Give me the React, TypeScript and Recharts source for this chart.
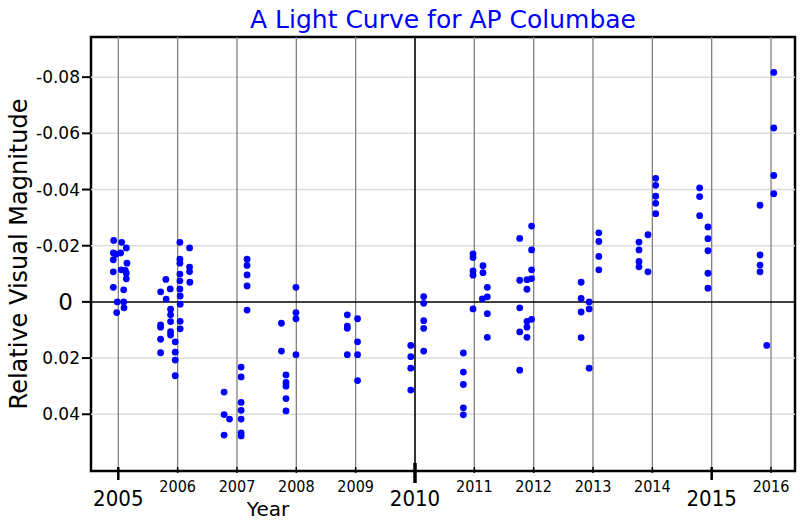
import React from "react";
import {
  ScatterChart,
  Scatter,
  XAxis,
  YAxis,
  ReferenceLine,
  ReferenceArea,
} from "recharts";

// observations per season: [year, relative magnitude]
const season2005: [number, number][] = [
  [2004.923, -0.0219], [2005.057, -0.0212], [2005.135, -0.0192], [2004.916, -0.0174],
  [2004.961, -0.017], [2005.04, -0.0174], [2004.916, -0.015], [2005.146, -0.0138],
  [2004.916, -0.0107], [2005.05, -0.0114], [2005.118, -0.0112], [2005.135, -0.0102],
  [2005.135, -0.0082], [2004.916, -0.0052], [2005.091, -0.0043], [2004.983, 0.0],
  [2005.091, 0.0], [2005.096, 0.0021], [2004.973, 0.0038],
];
const season2006: [number, number][] = [
  [2005.802, -0.008], [2005.713, -0.0036], [2005.875, -0.0046], [2005.807, -0.001],
  [2006.038, -0.0212], [2006.201, -0.0192], [2006.038, -0.0152], [2006.038, -0.0138],
  [2006.201, -0.0124], [2006.201, -0.0108], [2006.038, -0.0099], [2006.038, -0.0075],
  [2006.206, -0.007], [2006.038, -0.0046], [2006.043, -0.0021], [2006.043, 0.0008],
  [2005.881, 0.0026], [2005.881, 0.0046], [2005.881, 0.007], [2006.043, 0.0069],
  [2006.043, 0.0096], [2005.713, 0.0082], [2005.713, 0.009], [2005.881, 0.0106],
  [2005.881, 0.0118], [2005.713, 0.0133], [2005.959, 0.0142], [2005.713, 0.0181],
  [2005.959, 0.0179], [2005.959, 0.0207], [2005.959, 0.0263],
];
const season2007: [number, number][] = [
  [2007.17, -0.0152], [2007.17, -0.013], [2007.17, -0.0096], [2007.17, -0.0057],
  [2007.17, 0.0029], [2007.07, 0.0232], [2007.07, 0.0267], [2006.783, 0.0321],
  [2007.07, 0.0358], [2007.07, 0.0386], [2006.783, 0.0401], [2006.874, 0.0417],
  [2007.07, 0.0417], [2006.783, 0.0474], [2007.07, 0.0466], [2007.07, 0.0477],
];
const season2008: [number, number][] = [
  [2007.994, -0.0052], [2007.994, 0.0038], [2007.994, 0.006], [2007.749, 0.0076],
  [2007.749, 0.0175], [2007.994, 0.0188], [2007.826, 0.026], [2007.826, 0.0287],
  [2007.826, 0.03], [2007.826, 0.0344], [2007.826, 0.0388],
];
const season2009: [number, number][] = [
  [2008.859, 0.0046], [2009.032, 0.006], [2008.859, 0.0086], [2008.859, 0.0094],
  [2009.032, 0.0142], [2008.859, 0.0188], [2009.032, 0.0188], [2009.032, 0.028],
];
const season2010: [number, number][] = [
  [2010.147, -0.0019], [2010.147, 0.0005], [2010.147, 0.0067], [2010.147, 0.0094],
  [2010.147, 0.0175], [2009.929, 0.0155], [2009.929, 0.0195], [2009.929, 0.0236],
  [2009.929, 0.0314],
];
const season2011: [number, number][] = [
  [2010.978, -0.0171], [2010.978, -0.0158], [2010.978, -0.011], [2010.978, -0.0095],
  [2011.146, -0.0129], [2011.146, -0.0104], [2011.219, -0.0052], [2011.135, -0.0011],
  [2011.219, -0.0018], [2010.978, 0.0025], [2011.219, 0.0042], [2011.219, 0.0126],
  [2010.815, 0.0182], [2010.815, 0.025], [2010.815, 0.0294], [2010.815, 0.0377],
  [2010.815, 0.0402],
];
const season2012: [number, number][] = [
  [2011.965, -0.027], [2011.765, -0.0226], [2011.965, -0.0185], [2011.965, -0.0114],
  [2011.765, -0.0077], [2011.887, -0.0079], [2011.965, -0.0083], [2011.887, -0.0045],
  [2011.765, 0.0021], [2011.887, 0.0069], [2011.965, 0.0062], [2011.887, 0.009],
  [2011.765, 0.0107], [2011.887, 0.0126], [2011.765, 0.0243],
];
const season2013: [number, number][] = [
  [2013.098, -0.0246], [2013.098, -0.0215], [2013.098, -0.0162], [2013.098, -0.0114],
  [2012.8, -0.007], [2012.8, -0.0012], [2012.935, 0.0], [2012.935, 0.0025],
  [2012.8, 0.0036], [2012.8, 0.0127], [2012.935, 0.0236],
];
const season2014: [number, number][] = [
  [2013.775, -0.0213], [2013.775, -0.0185], [2013.926, -0.0239], [2013.775, -0.0144],
  [2013.775, -0.0125], [2013.926, -0.0107], [2014.056, -0.044], [2014.056, -0.0415],
  [2014.056, -0.0376], [2014.056, -0.0351], [2014.056, -0.0314],
];
const season2015: [number, number][] = [
  [2014.797, -0.0406], [2014.797, -0.0375], [2014.797, -0.0307], [2014.937, -0.0267],
  [2014.937, -0.0225], [2014.937, -0.0182], [2014.937, -0.0102], [2014.937, -0.0049],
];
const season2016: [number, number][] = [
  [2015.815, -0.0344], [2015.815, -0.0167], [2015.815, -0.0131], [2015.815, -0.0107],
  [2015.928, 0.0155], [2016.046, -0.045], [2016.046, -0.0385], [2016.046, -0.0619],
  [2016.046, -0.0817],
];

const yearTicks = [2005, 2006, 2007, 2008, 2009, 2010, 2011, 2012, 2013, 2014, 2015, 2016];
const majorYears = [2005, 2010, 2015];
const magTicks = [-0.08, -0.06, -0.04, -0.02, 0, 0.02, 0.04];
const xDomain: [number, number] = [2004.54, 2016.404];
const yDomain: [number, number] = [-0.0943, 0.0602];

const points = [
  ...season2005, ...season2006, ...season2007, ...season2008,
  ...season2009, ...season2010, ...season2011, ...season2012,
  ...season2013, ...season2014, ...season2015, ...season2016,
].map(([year, mag]) => ({ year, mag }));

const FONT = "'DejaVu Sans', sans-serif";
const COND = "'DejaVu Sans Condensed', 'DejaVu Sans', sans-serif";

function YearTick(props: any) {
  const { x, y, payload } = props;
  const v = payload.value;
  const major = majorYears.includes(v);
  const big = v === 2010;
  return (
    <g>
      <line
        x1={x}
        x2={x}
        y1={big ? y - 8 : y - 4}
        y2={big ? y + 12 : major ? y + 9 : y + 2}
        stroke="#000"
        strokeWidth={big ? 3.5 : major ? 2.5 : 1.5}
      />
      <text
        x={x}
        y={major ? y + 35 : y + 21}
        textAnchor="middle"
        fontFamily={COND}
        fontSize={major ? 22 : 16}
        fill="#000"
      >
        {v}
      </text>
    </g>
  );
}

function MagTick(props: any) {
  const { x, y, payload } = props;
  const v = payload.value;
  const zero = v === 0;
  return (
    <g>
      <line x1={x - 9} x2={x} y1={y} y2={y} stroke="#000" strokeWidth={2} />
      <text
        x={zero ? x - 18 : x - 11}
        y={y}
        dy={zero ? 8 : 6}
        textAnchor="end"
        fontFamily={FONT}
        fontSize={zero ? 23 : 17}
        fill="#000"
      >
        {zero ? "0" : v.toFixed(2)}
      </text>
    </g>
  );
}

const Dot = (props: any) => (
  <circle cx={props.cx} cy={props.cy} r={3.4} fill="#0000ff" />
);

export default function App() {
  return (
    <div style={{ position: "absolute", left: 0, top: 0, width: 800, height: 520, background: "#fff" }}>
      <div
        style={{
          position: "absolute",
          left: 91,
          top: 7,
          width: 704,
          textAlign: "center",
          fontFamily: FONT,
          fontSize: 25,
          lineHeight: "25px",
          color: "#0000ff",
        }}
      >
        A Light Curve for AP Columbae
      </div>
      <ScatterChart width={800} height={520} margin={{ top: 37, right: 5, bottom: 0, left: 0 }}>
        <XAxis
          type="number"
          dataKey="year"
          domain={xDomain}
          ticks={yearTicks}
          allowDataOverflow
          height={49}
          tickSize={0}
          tickMargin={0}
          tickLine={false}
          axisLine={false}
          tick={<YearTick />}
          interval={0}
          label={(p: any) => (
            <text x={268} y={516} textAnchor="middle" fontFamily={FONT} fontSize={20} fill="#000">
              Year
            </text>
          )}
        />
        <YAxis
          type="number"
          dataKey="mag"
          domain={yDomain}
          ticks={magTicks}
          reversed
          allowDataOverflow
          width={91}
          tickSize={0}
          tickMargin={0}
          tickLine={false}
          axisLine={false}
          tick={<MagTick />}
          interval={0}
          label={(p: any) => (
            <text
              x={27}
              y={254}
              transform="rotate(-90, 27, 254)"
              textAnchor="middle"
              fontFamily={FONT}
              fontSize={24}
              fill="#000"
            >
              Relative Visual Magnitude
            </text>
          )}
        />
        {magTicks
          .filter((m) => m !== 0)
          .map((m) => (
            <ReferenceLine key={"h" + m} y={m} stroke="#dcdcdc" strokeWidth={1.5} />
          ))}
        {yearTicks.map((yr) => (
          <ReferenceLine
            key={"v" + yr}
            x={yr}
            stroke={yr === 2010 ? "#000" : "#808080"}
            strokeWidth={yr === 2010 ? 1.6 : 1.3}
          />
        ))}
        <ReferenceLine y={0} stroke="#000" strokeWidth={1.5} />
        <ReferenceArea
          x1={xDomain[0]}
          x2={xDomain[1]}
          y1={yDomain[0]}
          y2={yDomain[1]}
          fill="none"
          stroke="#000"
          strokeWidth={2.5}
          ifOverflow="extendDomain"
        />
        <Scatter data={points} shape={<Dot />} isAnimationActive={false} />
      </ScatterChart>
    </div>
  );
}
